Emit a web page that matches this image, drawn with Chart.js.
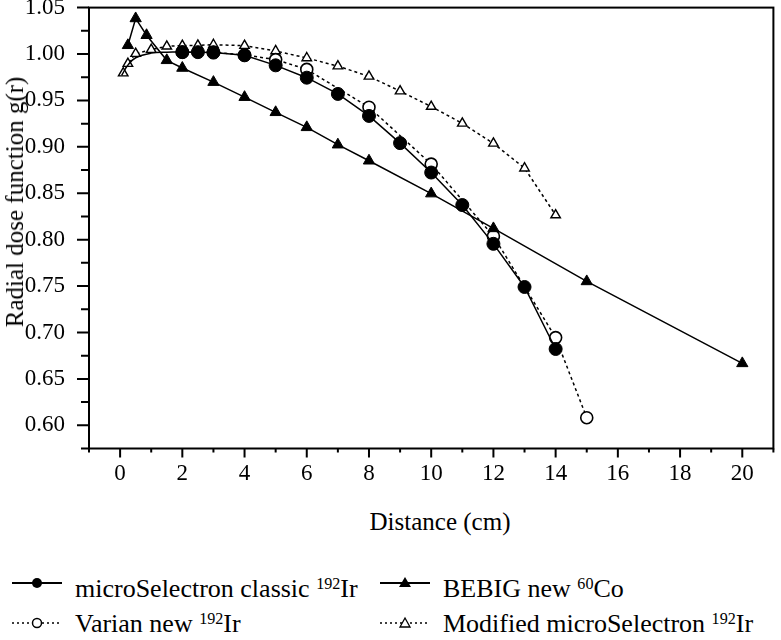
<!DOCTYPE html>
<html>
<head>
<meta charset="utf-8">
<script src="https://cdn.jsdelivr.net/npm/chart.js@4.4.1/dist/chart.umd.min.js"></script>
<style>
  body { margin: 0; background: #fff; width: 781px; height: 640px; position: relative; overflow: hidden; font-family: "Liberation Serif", serif; color: #000; }
  #wrap { position: absolute; left: 0; top: 0; width: 781px; height: 500px; }
  .ytitle { position: absolute; left: 15px; top: 202px; transform: translate(-50%, -50%) rotate(-90deg); font: 25px "Liberation Serif", serif; white-space: nowrap; }
  .xtitle { position: absolute; left: 440px; top: 522px; transform: translate(-50%, -50%); font: 25px "Liberation Serif", serif; white-space: nowrap; }
  .sym { position: absolute; }
  .lab { position: absolute; font: 26px/1 "Liberation Serif", serif; white-space: nowrap; }
  .lab sup { font-size: 0.62em; vertical-align: 0.5em; line-height: 0; }
</style>
</head>
<body>
<div id="wrap"><canvas id="chart" width="781" height="500"></canvas></div>
<div class="ytitle">Radial dose function g(r)</div>
<div class="xtitle">Distance (cm)</div>

<svg class="sym" style="left:10px;top:573px" width="54" height="20">
  <line x1="2" y1="10" x2="52" y2="10" stroke="#000" stroke-width="2"/>
  <circle cx="27" cy="10" r="5" fill="#000"/>
</svg>
<div class="lab" style="left:75px;top:576px">microSelectron classic <sup>192</sup>Ir</div>
<svg class="sym" style="left:378px;top:573px" width="54" height="20">
  <line x1="2" y1="10" x2="52" y2="10" stroke="#000" stroke-width="2"/>
  <polygon points="27,4 33,14 21,14" fill="#000"/>
</svg>
<div class="lab" style="left:443px;top:576px">BEBIG new <sup>60</sup>Co</div>

<svg class="sym" style="left:10px;top:613px" width="54" height="20">
  <line x1="2" y1="10" x2="52" y2="10" stroke="#000" stroke-width="1.5" stroke-dasharray="2,3"/>
  <circle cx="27" cy="10" r="4.5" fill="#fff" stroke="#000" stroke-width="1.5"/>
</svg>
<div class="lab" style="left:75px;top:611px">Varian new <sup>192</sup>Ir</div>
<svg class="sym" style="left:378px;top:613px" width="54" height="20">
  <line x1="2" y1="10" x2="52" y2="10" stroke="#000" stroke-width="1.5" stroke-dasharray="2,3"/>
  <polygon points="27,5 32,14 22,14" fill="#fff" stroke="#000" stroke-width="1.3"/>
</svg>
<div class="lab" style="left:443px;top:611px">Modified microSelectron <sup>192</sup>Ir</div>

<script>
// tick labels
const xTicks = [0, 2, 4, 6, 8, 10, 12, 14, 16, 18, 20];
const yTicks = [0.60, 0.65, 0.70, 0.75, 0.80, 0.85, 0.90, 0.95, 1.00, 1.05];

// microSelectron classic 192Ir
const msDist = [2, 2.5, 3, 4, 5, 6, 7, 8, 9, 10, 11, 12, 13, 14];
const msClassic = [1.002, 1.002, 1.0015, 0.9986, 0.9878, 0.9745, 0.957, 0.9333, 0.904, 0.8723, 0.8373, 0.7955, 0.749, 0.6822];
// its smooth curve below 2 cm (no markers)
const msNearDist = [0.05, 0.25, 0.5, 1, 1.5, 2];
const msNear = [0.977, 0.988, 0.996, 1.001, 1.002, 1.002];

// BEBIG new 60Co
const bebigDist = [0.25, 0.5, 0.85, 1.5, 2, 3, 4, 5, 6, 7, 8, 10, 12, 15, 20];
const bebig = [1.0094, 1.0383, 1.0202, 0.9932, 0.9849, 0.9697, 0.9535, 0.9372, 0.921, 0.9023, 0.885, 0.8496, 0.8121, 0.755, 0.6667];

// Varian new 192Ir
const varianDist = [2, 3, 4, 5, 6, 8, 10, 12, 14, 15];
const varian = [1.002, 1.002, 0.999, 0.994, 0.9834, 0.9427, 0.8814, 0.8038, 0.6945, 0.6082];

// Modified microSelectron 192Ir
const modDist = [0.1, 0.25, 0.5, 1, 1.5, 2, 2.5, 3, 4, 5, 6, 7, 8, 9, 10, 11, 12, 13, 14];
const modMs = [0.9794, 0.9896, 1.0004, 1.0047, 1.0083, 1.009, 1.0094, 1.010, 1.009, 1.0033, 0.9957, 0.987, 0.9759, 0.960, 0.9434, 0.9253, 0.9037, 0.877, 0.8265];

const pts = (xs, ys) => xs.map((x, i) => ({ x: x, y: ys[i] }));

// box round the plot plus the outward tick marks
const frame = {
  id: 'frame',
  afterDatasetsDraw(chart) {
    const { ctx, chartArea: a, scales: { x, y } } = chart;
    ctx.save();
    ctx.strokeStyle = '#000';
    ctx.lineWidth = 2;
    ctx.strokeRect(a.left, a.top, a.right - a.left, a.bottom - a.top);
    ctx.beginPath();
    for (let v = -1; v <= 21; v++) {
      const px = x.getPixelForValue(v);
      ctx.moveTo(px, a.bottom);
      ctx.lineTo(px, a.bottom + (v % 2 === 0 ? 9 : 4));
    }
    for (let i = 0; i <= 19; i++) {
      const py = y.getPixelForValue(0.575 + i * 0.025);
      ctx.moveTo(a.left, py);
      ctx.lineTo(a.left - (i % 2 === 1 ? 12 : 8), py);
    }
    ctx.stroke();
    ctx.restore();
  }
};

const tickFont = { family: 'Liberation Serif', size: 23 };

new Chart(document.getElementById('chart'), {
  type: 'line',
  data: {
    datasets: [
      {
        label: 'microSelectron classic 192Ir',
        data: pts(msDist, msClassic),
        borderColor: '#000', backgroundColor: '#000', borderWidth: 1.5,
        pointStyle: 'circle', pointRadius: 6.5, pointBorderWidth: 1,
        order: 0
      },
      {
        label: 'microSelectron classic 192Ir (short r)',
        data: pts(msNearDist, msNear),
        borderColor: '#000', borderWidth: 1.5, tension: 0.4,
        pointRadius: 0,
        order: 0
      },
      {
        label: 'BEBIG new 60Co',
        data: pts(bebigDist, bebig),
        borderColor: '#000', backgroundColor: '#000', borderWidth: 1.5,
        pointStyle: 'triangle', pointRadius: 6.5, pointBorderWidth: 1,
        order: 1
      },
      {
        label: 'Varian new 192Ir',
        data: pts(varianDist, varian),
        borderColor: '#000', backgroundColor: '#fff', borderWidth: 1.5, borderDash: [3, 3],
        pointStyle: 'circle', pointRadius: 6, pointBorderWidth: 1.6,
        order: 2
      },
      {
        label: 'Modified microSelectron 192Ir',
        data: pts(modDist, modMs),
        borderColor: '#000', backgroundColor: '#fff', borderWidth: 1.5, borderDash: [3, 3],
        pointStyle: 'triangle', pointRadius: 5.5, pointBorderWidth: 1.4,
        order: 3
      }
    ]
  },
  options: {
    responsive: false,
    animation: false,
    layout: { padding: { top: 7.5, right: 2, bottom: 11.5, left: 0 } },
    plugins: { legend: { display: false }, tooltip: { enabled: false } },
    scales: {
      x: {
        type: 'linear', min: -1, max: 21,
        grid: { display: false }, border: { display: false },
        afterBuildTicks: s => { s.ticks = xTicks.map(v => ({ value: v })); },
        afterFit: s => { s.height = 40; s.paddingLeft = 0; s.paddingRight = 0; },
        ticks: { color: '#000', font: tickFont, padding: 4, maxRotation: 0, autoSkip: false }
      },
      y: {
        type: 'linear', min: 0.575, max: 1.05,
        grid: { display: false }, border: { display: false },
        afterBuildTicks: s => { s.ticks = yTicks.map(v => ({ value: v })); },
        afterFit: s => { s.width = 89; s.paddingTop = 0; s.paddingBottom = 0; },
        ticks: { color: '#000', font: tickFont, padding: 16, callback: v => v.toFixed(2) }
      }
    }
  },
  plugins: [frame]
});
</script>
</body>
</html>
